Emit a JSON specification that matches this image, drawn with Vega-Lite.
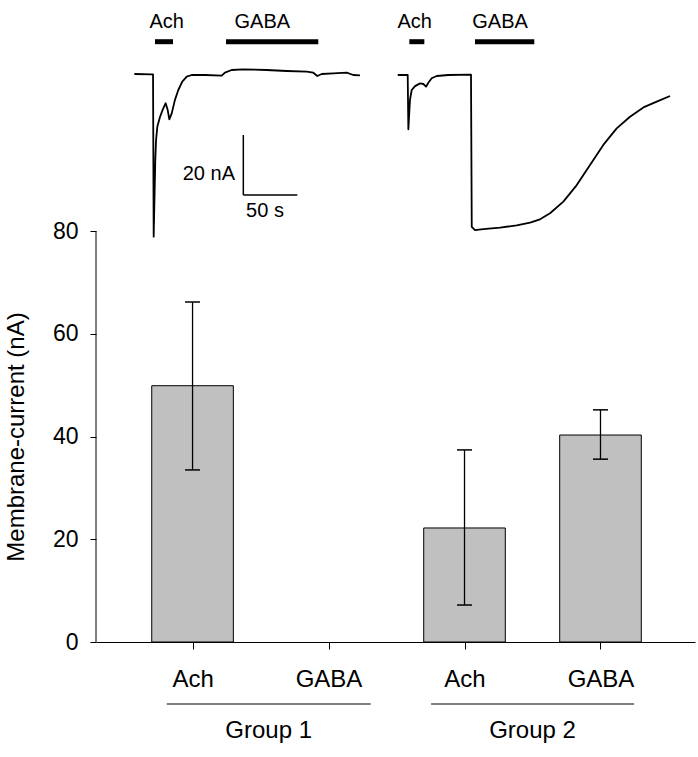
{
  "$schema": "https://vega.github.io/schema/vega-lite/v6.json",
  "width": 599,
  "height": 642,
  "autosize": "none",
  "padding": {"left": 96, "top": 0, "right": 3, "bottom": 115},
  "background": "white",
  "config": {
    "font": "Liberation Sans",
    "view": {"stroke": null},
    "axis": {"domainColor": "#000", "tickColor": "#000", "labelColor": "#000", "titleColor": "#000", "grid": false, "domainWidth": 1, "tickWidth": 1}
  },
  "datasets": {
    "bars": [
      {"group": "Group 1", "drug": "Ach", "pos": 1, "mean": 49.9, "lo": 33.5, "hi": 66.2},
      {"group": "Group 1", "drug": "GABA", "pos": 2, "mean": 0, "lo": null, "hi": null},
      {"group": "Group 2", "drug": "Ach", "pos": 3, "mean": 22.2, "lo": 7.2, "hi": 37.4},
      {"group": "Group 2", "drug": "GABA", "pos": 4, "mean": 40.3, "lo": 35.6, "hi": 45.2}
    ],
    "groups": [
      {"group": "Group 1", "start": 0.81, "end": 2.31, "mid": 1.56},
      {"group": "Group 2", "start": 2.754, "end": 4.246, "mid": 3.5}
    ],
    "traces": [
      {"trace": 1, "t": 35.5, "I": 0.33},
      {"trace": 1, "t": 51.6, "I": 0.23},
      {"trace": 1, "t": 52.8, "I": 0.23},
      {"trace": 1, "t": 53.4, "I": -53.9},
      {"trace": 1, "t": 54.9, "I": -28.3},
      {"trace": 1, "t": 55.6, "I": -21.7},
      {"trace": 1, "t": 56.8, "I": -17.2},
      {"trace": 1, "t": 59.3, "I": -13.9},
      {"trace": 1, "t": 62.3, "I": -11.1},
      {"trace": 1, "t": 64.5, "I": -9.4},
      {"trace": 1, "t": 66.4, "I": -11.7},
      {"trace": 1, "t": 67.9, "I": -14.8},
      {"trace": 1, "t": 70.1, "I": -12.8},
      {"trace": 1, "t": 73.1, "I": -8.3},
      {"trace": 1, "t": 76.2, "I": -5.0},
      {"trace": 1, "t": 79.9, "I": -2.2},
      {"trace": 1, "t": 84.0, "I": -0.57},
      {"trace": 1, "t": 88.6, "I": 0},
      {"trace": 1, "t": 100.9, "I": 0},
      {"trace": 1, "t": 116.4, "I": -0.23},
      {"trace": 1, "t": 119.4, "I": 0.77},
      {"trace": 1, "t": 125.6, "I": 1.67},
      {"trace": 1, "t": 136.4, "I": 1.9},
      {"trace": 1, "t": 158.1, "I": 1.67},
      {"trace": 1, "t": 176.6, "I": 1.33},
      {"trace": 1, "t": 195.1, "I": 1.1},
      {"trace": 1, "t": 201.2, "I": 0.77},
      {"trace": 1, "t": 204.9, "I": -0.33},
      {"trace": 1, "t": 209.0, "I": 0.33},
      {"trace": 1, "t": 219.7, "I": 0.57},
      {"trace": 1, "t": 232.1, "I": 0.77},
      {"trace": 1, "t": 238.2, "I": 0},
      {"trace": 1, "t": 244.4, "I": -0.1},
      {"trace": 2, "t": 279.4, "I": 0},
      {"trace": 2, "t": 288.6, "I": 0},
      {"trace": 2, "t": 289.2, "I": -18.1},
      {"trace": 2, "t": 290.7, "I": -8.3},
      {"trace": 2, "t": 292.3, "I": -5.0},
      {"trace": 2, "t": 295.4, "I": -3.7},
      {"trace": 2, "t": 300.0, "I": -2.8},
      {"trace": 2, "t": 303.1, "I": -3.0},
      {"trace": 2, "t": 305.6, "I": -3.9},
      {"trace": 2, "t": 307.7, "I": -2.6},
      {"trace": 2, "t": 310.8, "I": -1.1},
      {"trace": 2, "t": 315.5, "I": -0.33},
      {"trace": 2, "t": 326.2, "I": 0},
      {"trace": 2, "t": 347.2, "I": 0.1},
      {"trace": 2, "t": 347.9, "I": -50.6},
      {"trace": 2, "t": 350.9, "I": -51.7},
      {"trace": 2, "t": 358.6, "I": -51.4},
      {"trace": 2, "t": 374.1, "I": -50.9},
      {"trace": 2, "t": 389.5, "I": -50.1},
      {"trace": 2, "t": 401.9, "I": -49.2},
      {"trace": 2, "t": 411.1, "I": -48.1},
      {"trace": 2, "t": 420.4, "I": -46.1},
      {"trace": 2, "t": 432.7, "I": -42.2},
      {"trace": 2, "t": 445.1, "I": -36.7},
      {"trace": 2, "t": 457.4, "I": -30.0},
      {"trace": 2, "t": 469.7, "I": -23.3},
      {"trace": 2, "t": 482.1, "I": -17.8},
      {"trace": 2, "t": 494.4, "I": -13.9},
      {"trace": 2, "t": 506.8, "I": -10.8},
      {"trace": 2, "t": 519.2, "I": -8.9},
      {"trace": 2, "t": 531.5, "I": -7.0}
    ],
    "stimuli": [
      {"trace": 1, "drug": "Ach", "start": 54.6, "end": 71.3, "labelTime": 65.5},
      {"trace": 1, "drug": "GABA", "start": 120.4, "end": 205.8, "labelTime": 154.0},
      {"trace": 2, "drug": "Ach", "start": 290.1, "end": 304.0, "labelTime": 295.1},
      {"trace": 2, "drug": "GABA", "start": 350.9, "end": 405.8, "labelTime": 374.1}
    ],
    "scalebar": [
      {"t": 136.4, "t2": 136.4, "I": -20, "I2": -40},
      {"t": 136.4, "t2": 186.4, "I": -40, "I2": -40}
    ]
  },
  "layer": [
    {
      "layer": [
        {
          "data": {"name": "bars"},
          "transform": [{"filter": "datum.mean > 0"}],
          "mark": {"type": "bar", "orient": "vertical", "width": 81.6, "fill": "#c0c0c0", "stroke": "#000", "strokeWidth": 1},
          "encoding": {
            "x": {"field": "pos", "type": "quantitative", "scale": {"domain": [0.29, 4.695], "nice": false, "zero": false, "padding": 0},
              "axis": {"values": [1, 2, 3, 4], "title": null, "tickSize": 7, "labelFontSize": 24, "labelBaseline": "alphabetic", "labelPadding": 37,
                "labelExpr": "datum.value == 1 || datum.value == 3 ? 'Ach' : 'GABA'", "labelOverlap": false, "labelFlush": false}},
            "y": {"field": "mean", "type": "quantitative", "stack": null, "scale": {"domain": [0, 125], "nice": false, "padding": 0},
              "axis": {"values": [0, 20, 40, 60, 80], "domain": false, "tickSize": 6, "labelFontSize": 23, "labelPadding": 12,
                "title": "Membrane-current (nA)", "titleFontSize": 24, "titleFontWeight": "normal", "titleX": -80, "titleY": 436.5,
                "titleAlign": "center", "titleBaseline": "middle", "titleAngle": -90}}
          }
        },
        {
          "data": {"name": "bars"},
          "transform": [{"filter": "datum.hi != null"}],
          "mark": {"type": "rule", "color": "#000", "strokeWidth": 1.3},
          "encoding": {
            "x": {"field": "pos", "type": "quantitative"},
            "y": {"field": "lo", "type": "quantitative"},
            "y2": {"field": "hi"}
          }
        },
        {
          "data": {"name": "bars"},
          "transform": [{"filter": "datum.hi != null"}],
          "mark": {"type": "tick", "orient": "horizontal", "size": 15, "thickness": 1.5, "color": "#000", "opacity": 1},
          "encoding": {
            "x": {"field": "pos", "type": "quantitative"},
            "y": {"field": "hi", "type": "quantitative"}
          }
        },
        {
          "data": {"name": "bars"},
          "transform": [{"filter": "datum.lo != null"}],
          "mark": {"type": "tick", "orient": "horizontal", "size": 15, "thickness": 1.5, "color": "#000", "opacity": 1},
          "encoding": {
            "x": {"field": "pos", "type": "quantitative"},
            "y": {"field": "lo", "type": "quantitative"}
          }
        },
        {
          "data": {"values": [{"axis": "y"}]},
          "mark": {"type": "rule", "color": "#000", "strokeWidth": 1},
          "encoding": {
            "x": {"datum": 0.29, "type": "quantitative"},
            "y": {"datum": 0, "type": "quantitative"},
            "y2": {"datum": 80}
          }
        },
        {
          "data": {"name": "groups"},
          "mark": {"type": "rule", "color": "#000", "strokeWidth": 1.2},
          "encoding": {
            "x": {"field": "start", "type": "quantitative"},
            "x2": {"field": "end"},
            "y": {"datum": -12.07, "type": "quantitative"}
          }
        },
        {
          "data": {"name": "groups"},
          "mark": {"type": "text", "fontSize": 24, "align": "center", "baseline": "alphabetic", "color": "#000"},
          "encoding": {
            "x": {"field": "mid", "type": "quantitative"},
            "y": {"datum": -18.69, "type": "quantitative"},
            "text": {"field": "group"}
          }
        }
      ]
    },
    {
      "layer": [
        {
          "data": {"name": "traces"},
          "mark": {"type": "line", "color": "#000", "strokeWidth": 1.8, "strokeJoin": "round"},
          "encoding": {
            "x": {"field": "t", "type": "quantitative", "scale": {"domain": [0, 554.6], "nice": false, "zero": false, "padding": 0}, "axis": null},
            "y": {"field": "I", "type": "quantitative", "scale": {"domain": [-189, 25], "nice": false, "zero": false, "padding": 0}, "axis": null},
            "detail": {"field": "trace"}
          }
        },
        {
          "data": {"name": "stimuli"},
          "mark": {"type": "rule", "color": "#000", "strokeWidth": 5, "strokeCap": "butt"},
          "encoding": {
            "x": {"field": "start", "type": "quantitative"},
            "x2": {"field": "end"},
            "y": {"datum": 11.1, "type": "quantitative"}
          }
        },
        {
          "data": {"name": "stimuli"},
          "mark": {"type": "text", "fontSize": 20, "align": "center", "baseline": "alphabetic", "color": "#000"},
          "encoding": {
            "x": {"field": "labelTime", "type": "quantitative"},
            "y": {"datum": 15.6, "type": "quantitative"},
            "text": {"field": "drug"}
          }
        },
        {
          "data": {"name": "scalebar"},
          "mark": {"type": "rule", "color": "#000", "strokeWidth": 1.5},
          "encoding": {
            "x": {"field": "t", "type": "quantitative"},
            "x2": {"field": "t2"},
            "y": {"field": "I", "type": "quantitative"},
            "y2": {"field": "I2"}
          }
        },
        {
          "data": {"values": [{"label": "20 nA", "t": 128.7, "I": -35}]},
          "mark": {"type": "text", "fontSize": 20, "align": "right", "baseline": "alphabetic", "color": "#000"},
          "encoding": {
            "x": {"field": "t", "type": "quantitative"},
            "y": {"field": "I", "type": "quantitative"},
            "text": {"field": "label"}
          }
        },
        {
          "data": {"values": [{"label": "50 s", "t": 156.5, "I": -47.2}]},
          "mark": {"type": "text", "fontSize": 20, "align": "center", "baseline": "alphabetic", "color": "#000"},
          "encoding": {
            "x": {"field": "t", "type": "quantitative"},
            "y": {"field": "I", "type": "quantitative"},
            "text": {"field": "label"}
          }
        }
      ]
    }
  ],
  "resolve": {"scale": {"x": "independent", "y": "independent"}}
}
